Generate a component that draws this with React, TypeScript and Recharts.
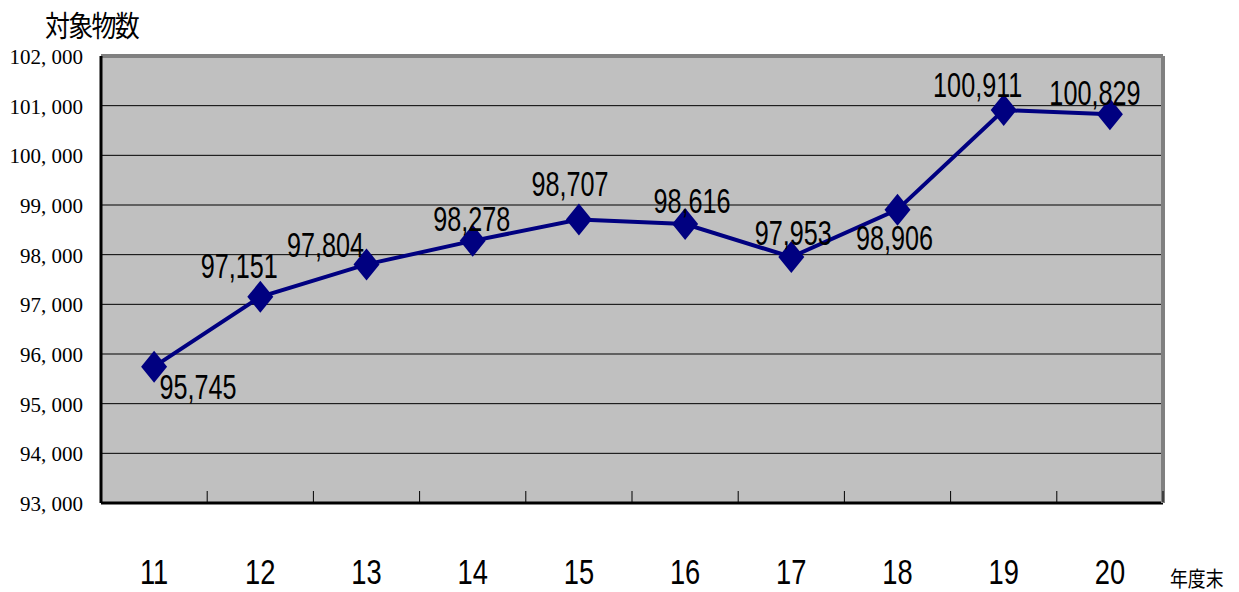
import React from 'react';
import { LineChart, Line, XAxis, YAxis, CartesianGrid, LabelList } from 'recharts';

const years = [11, 12, 13, 14, 15, 16, 17, 18, 19, 20];
const counts = [95745, 97151, 97804, 98278, 98707, 98616, 97953, 98906, 100911, 100829];
const yTicks = [93000, 94000, 95000, 96000, 97000, 98000, 99000, 100000, 101000, 102000];

// where each value label sits relative to its marker (px)
const labelDx = [44, -21, -41, -1, -9, 7, 2, -3, -26, -15];
const labelDy = [32, -19, -7, -10, -24, -11, -12, 40, -13, -9];

const data = years.map((year, i) => ({ year, count: counts[i] }));
const boundaries = years.map((y) => y + 0.5);

const NAVY = '#000080';

const Diamond = (props: any) => {
  const { cx, cy } = props;
  if (cx == null || cy == null) return null;
  return (
    <polygon
      points={`${cx},${cy - 16} ${cx + 13},${cy} ${cx},${cy + 16} ${cx - 13},${cy}`}
      fill={NAVY}
    />
  );
};

const ValueLabel = (props: any) => {
  const { x, y, index, value } = props;
  const tx = x + labelDx[index];
  const ty = y + labelDy[index];
  return (
    <text
      transform={`translate(${tx},${ty}) scale(0.7,1)`}
      textAnchor="middle"
      fontFamily="'Liberation Sans', Arial, sans-serif"
      fontSize={36}
      fill="#000"
    >
      {Number(value).toLocaleString('en-US')}
    </text>
  );
};

const YTick = (props: any) => {
  const { y, payload } = props;
  const txt = Number(payload.value).toLocaleString('en-US').replace(',', ', ');
  return (
    <text x={83} y={y + 8} textAnchor="end" fontFamily="'Liberation Serif', serif" fontSize={21} fill="#000">
      {txt}
    </text>
  );
};

const XTick = (props: any) => {
  const { x, y, payload } = props;
  return (
    <text
      transform={`translate(${x},${y + 80}) scale(0.78,1)`}
      textAnchor="middle"
      fontFamily="'Liberation Sans', Arial, sans-serif"
      fontSize={35}
      fill="#000"
    >
      {payload.value}
    </text>
  );
};

// small inward tick between categories
const MarkTick = (props: any) => {
  const { x, y } = props;
  return <line x1={x} x2={x} y1={y - 1} y2={y - 12} stroke="#000" strokeWidth={1} />;
};

export default function App() {
  return (
    <div style={{ position: 'absolute', left: 0, top: 0, width: 1239, height: 592, background: '#fff' }}>
      <div
        style={{
          position: 'absolute',
          left: 45,
          top: 4,
          fontFamily: "'Noto Sans CJK JP', sans-serif",
          fontSize: 29,
          lineHeight: '40px',
          transform: 'scale(0.86,1)',
          transformOrigin: 'left top',
          whiteSpace: 'nowrap',
          color: '#000',
          letterSpacing: -2,
          zIndex: 2,
        }}
      >
        対象物数
      </div>
      <div
        style={{
          position: 'absolute',
          left: 1170,
          top: 563,
          fontFamily: "'Noto Sans CJK JP', sans-serif",
          fontSize: 21,
          lineHeight: '28px',
          transform: 'scale(0.85,1)',
          transformOrigin: 'left top',
          whiteSpace: 'nowrap',
          color: '#000',
          zIndex: 2,
        }}
      >
        年度末
      </div>
      <LineChart width={1239} height={592} data={data} margin={{ top: 55, right: 75, bottom: 0, left: 0 }}>
        <CartesianGrid vertical={false} horizontal stroke="#000" strokeWidth={1} fill="#C0C0C0" fillOpacity={1} />
        <XAxis
          dataKey="year"
          type="number"
          domain={[10.5, 20.5]}
          allowDataOverflow
          ticks={boundaries}
          interval={0}
          height={1}
          tickSize={0}
          tickMargin={0}
          tick={<MarkTick />}
          tickLine={false}
          axisLine={{ stroke: '#000', strokeWidth: 3 }}
        />
        <XAxis
          xAxisId="labels"
          dataKey="year"
          type="number"
          domain={[10.5, 20.5]}
          allowDataOverflow
          ticks={years}
          interval={0}
          height={88}
          tickSize={0}
          tickMargin={0}
          tickLine={false}
          tick={<XTick />}
          axisLine={false}
        />
        <XAxis
          xAxisId="top"
          orientation="top"
          dataKey="year"
          type="number"
          domain={[10.5, 20.5]}
          allowDataOverflow
          height={1}
          tick={false}
          tickLine={false}
          axisLine={{ stroke: '#808080', strokeWidth: 4 }}
        />
        <YAxis
          type="number"
          domain={[93000, 102000]}
          allowDataOverflow
          ticks={yTicks}
          interval={0}
          width={101}
          tickLine={false}
          tick={<YTick />}
          axisLine={{ stroke: '#000', strokeWidth: 3 }}
        />
        <YAxis
          yAxisId="right"
          orientation="right"
          type="number"
          domain={[93000, 102000]}
          allowDataOverflow
          width={1}
          tick={false}
          tickLine={false}
          axisLine={{ stroke: '#808080', strokeWidth: 4 }}
        />
        <Line
          xAxisId="labels"
          yAxisId="right"
          dataKey="count"
          stroke="none"
          dot={false}
          activeDot={false}
          legendType="none"
          isAnimationActive={false}
        />
        <Line
          xAxisId="top"
          yAxisId="right"
          dataKey="count"
          stroke="none"
          dot={false}
          activeDot={false}
          legendType="none"
          isAnimationActive={false}
        />
        <Line
          dataKey="count"
          stroke={NAVY}
          strokeWidth={4}
          dot={<Diamond />}
          activeDot={false}
          isAnimationActive={false}
        >
          <LabelList dataKey="count" content={<ValueLabel />} />
        </Line>
      </LineChart>
    </div>
  );
}
